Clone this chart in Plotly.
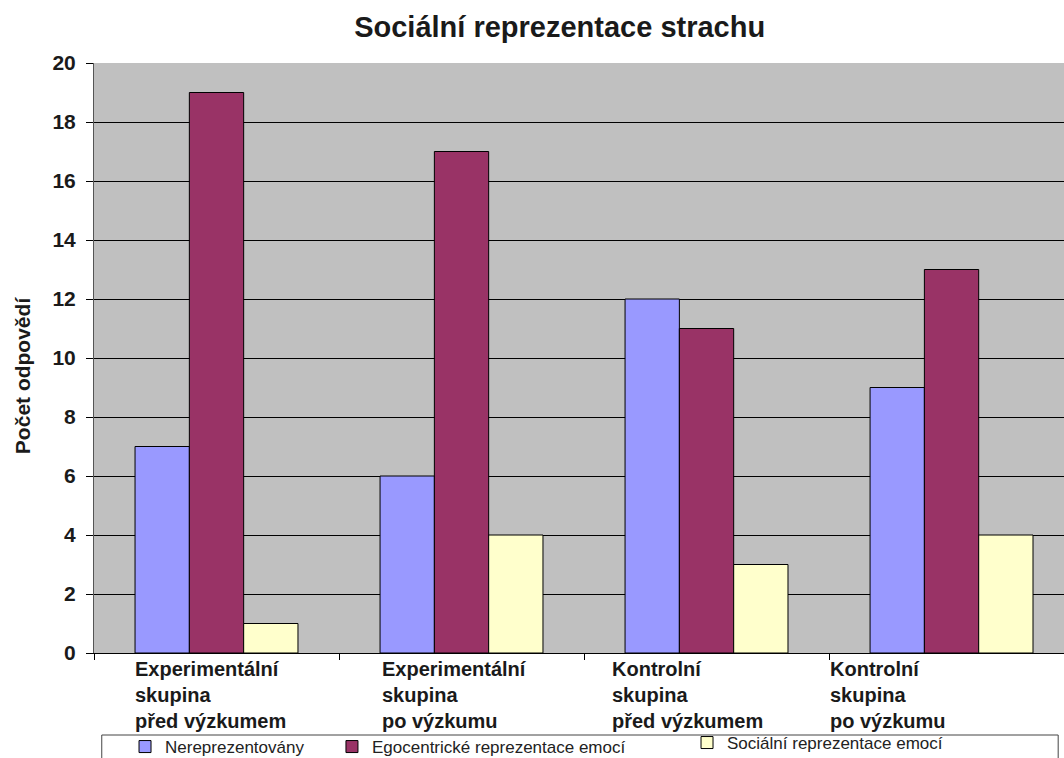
import plotly.graph_objects as go

# Data
categories = ["Experimentální skupina před výzkumem",
              "Experimentální skupina po výzkumu",
              "Kontrolní skupina před výzkumem",
              "Kontrolní skupina po výzkumu"]
category_labels = ["Experimentální<br>skupina<br>před výzkumem",
                   "Experimentální<br>skupina<br>po výzkumu",
                   "Kontrolní<br>skupina<br>před výzkumem",
                   "Kontrolní<br>skupina<br>po výzkumu"]
nereprezentovany = [7, 6, 12, 9]
egocentricke = [19, 17, 11, 13]
socialni = [1, 4, 3, 4]

FONT = "Liberation Sans, Arial, sans-serif"

series = [
    ("Nereprezentovány", nereprezentovany, "#9999FF", "legend"),
    ("Egocentrické reprezentace emocí", egocentricke, "#993366", "legend2"),
    ("Sociální reprezentace emocí", socialni, "#FFFFCC", "legend3"),
]

fig = go.Figure()
for name, vals, color, leg in series:
    fig.add_trace(go.Bar(
        x=categories, y=vals, name=name, legend=leg,
        marker=dict(color=color, line=dict(color="#000000", width=1)),
    ))

# left offsets of the wrapped category captions (in category units)
label_offsets = [-0.341, -0.333, -0.394, -0.504]
annotations = []
for i, (txt, off) in enumerate(zip(category_labels, label_offsets)):
    annotations.append(dict(
        x=i + off, xref="x", y=0, yref="paper", yanchor="top", xanchor="left",
        yshift=-3, text=txt, showarrow=False, align="left",
        font=dict(family=FONT, size=20, color="#1a1a1a", weight="bold"),
    ))
annotations.append(dict(
    x=-0.0742, xref="paper", y=0.471, yref="paper", xanchor="center", yanchor="middle",
    text="Počet odpovědí", textangle=-90, showarrow=False,
    font=dict(family=FONT, size=21, color="#1a1a1a", weight="bold"),
))

legend_common = dict(
    orientation="h", yanchor="middle", xanchor="left", bgcolor="rgba(0,0,0,0)",
    borderwidth=0, xref="container", yref="container",
    font=dict(family=FONT, size=17, color="#222222"),
)

fig.update_layout(
    width=1064, height=758,
    margin=dict(l=94, r=0, t=63, b=105, autoexpand=False),
    paper_bgcolor="#FFFFFF", plot_bgcolor="#C0C0C0",
    barmode="group", bargap=0.335, bargroupgap=0,
    title=dict(text="Sociální reprezentace strachu", x=0.526, xref="container",
               xanchor="center", y=0.964, yanchor="middle",
               font=dict(family=FONT, size=29, color="#1a1a1a", weight="bold")),
    xaxis=dict(type="category", range=[-0.5, 3.459], tickson="boundaries",
               showticklabels=False, ticks="outside", ticklen=6, tickcolor="#000000",
               showline=True, linecolor="#000000", linewidth=1, showgrid=False,
               zeroline=False),
    yaxis=dict(range=[0, 20], dtick=2, ticks="outside", ticklen=7, tickcolor="#000000",
               showline=True, linecolor="#555555", linewidth=1,
               showgrid=True, gridcolor="#000000", gridwidth=1, zeroline=False,
               ticklabelstandoff=6,
               tickfont=dict(family=FONT, size=21, color="#1a1a1a", weight="bold")),
    legend=dict(x=0.1175, y=0.0145, **legend_common),
    legend2=dict(x=0.312, y=0.0145, **legend_common),
    legend3=dict(x=0.6457, y=0.0198, **legend_common),
    showlegend=True,
    annotations=annotations,
    shapes=[dict(type="rect", xref="paper", yref="paper", x0=0.008, x1=0.994,
                 y0=-0.139, y1=-0.2, line=dict(color="#444444", width=1))],
)

fig.write_html("out.html")
